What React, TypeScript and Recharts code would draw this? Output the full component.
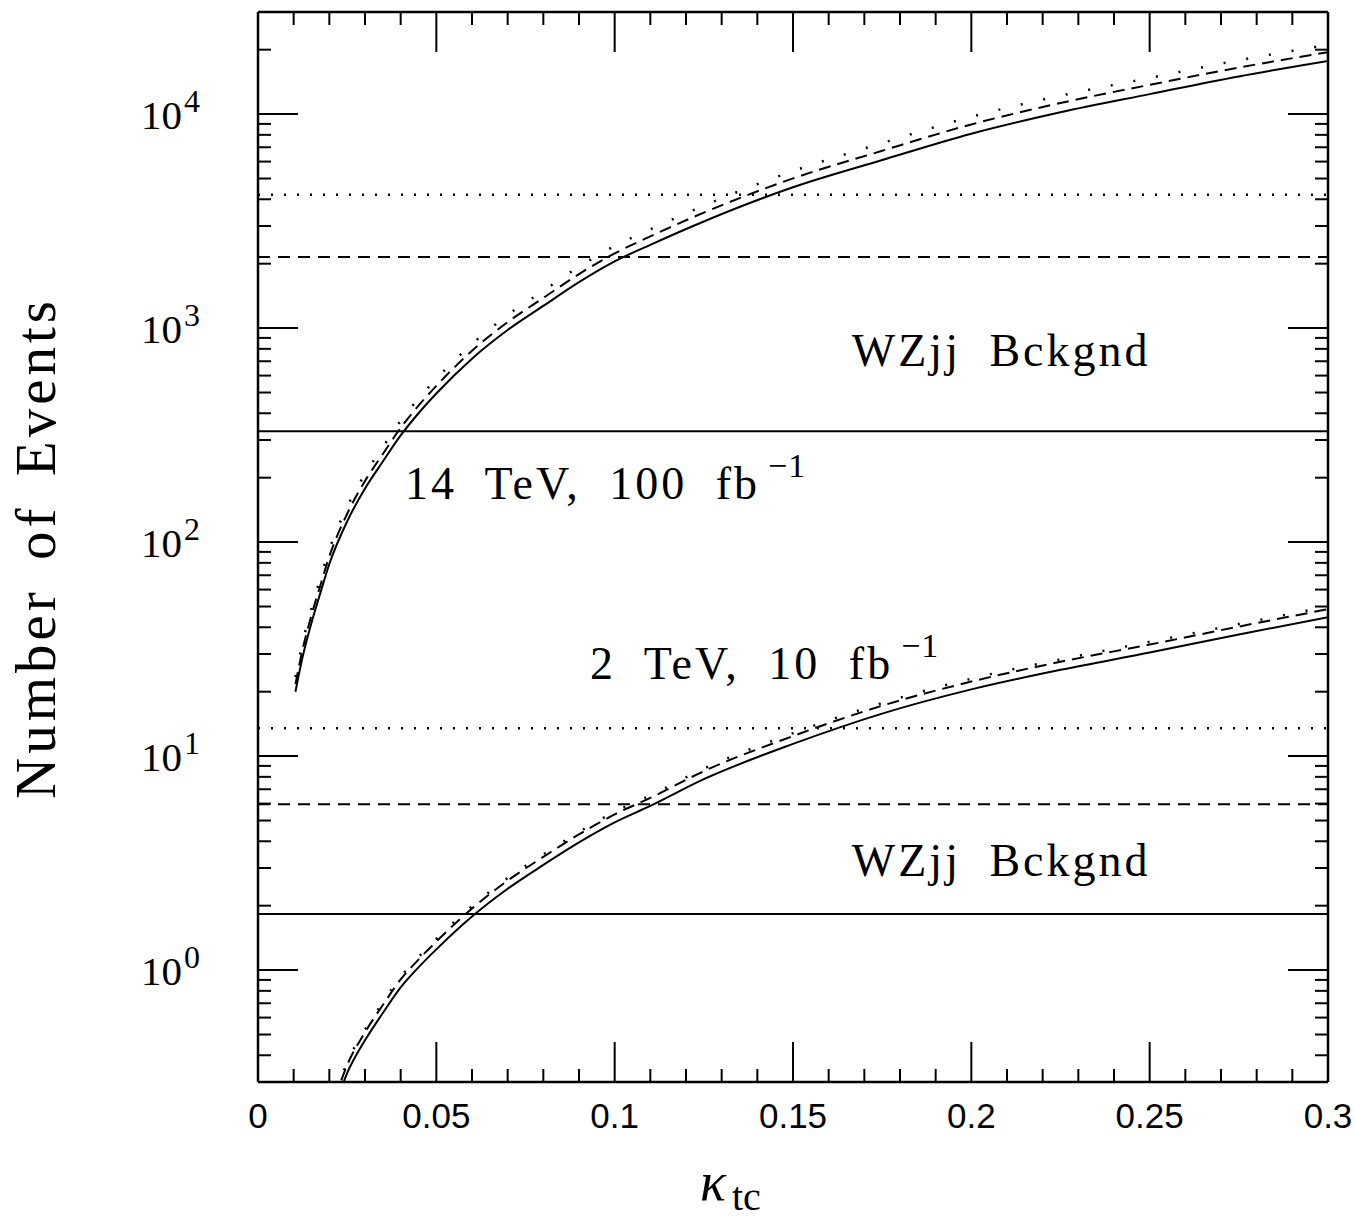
import React from 'react';
import { ComposedChart, Line, XAxis, YAxis, ReferenceLine, ReferenceDot } from 'recharts';

// kappa_tc grid
const kappa = [0.0105, 0.0125, 0.015, 0.0175, 0.02, 0.025, 0.03, 0.035, 0.04, 0.045, 0.05, 0.06, 0.07, 0.08, 0.09, 0.1, 0.11, 0.125, 0.15, 0.175, 0.2, 0.225, 0.25, 0.275, 0.3];

// 14 TeV, 100 fb^-1 signal curves
const lhcSolid = [20, 29, 42, 58, 79, 125, 178, 238, 315, 400, 495, 720, 980, 1270, 1640, 2050, 2450, 3150, 4550, 6100, 8100, 10200, 12400, 15000, 17700];
const lhcDashed = [21.7, 31.5, 45.6, 62.9, 85.7, 135.6, 193, 258, 342, 434, 537, 783, 1066, 1384, 1788, 2235, 2683, 3465, 5005, 6740, 8950, 11270, 13700, 16500, 19470];
const lhcDotted = [23.4, 33.9, 49.1, 67.9, 92.4, 146, 208, 278, 369, 468, 579, 842, 1152, 1492, 1935, 2419, 2891, 3733, 5415, 7320, 9720, 12190, 14760, 17850, 21060];

// 2 TeV, 10 fb^-1 signal curves
const tevSolid = [null, null, null, null, 0.19, 0.33, 0.47, 0.63, 0.83, 1.03, 1.25, 1.78, 2.4, 3.1, 3.95, 4.9, 5.85, 7.8, 11.4, 15.8, 20.5, 25.3, 30.5, 37, 44.6];
const tevDashed = [null, null, null, null, 0.207, 0.36, 0.512, 0.687, 0.905, 1.12, 1.36, 1.94, 2.62, 3.38, 4.31, 5.34, 6.38, 8.5, 12.4, 17.2, 22.3, 27.6, 33.2, 40.3, 48.6];
const tevDotted = [null, null, null, null, 0.213, 0.37, 0.526, 0.706, 0.93, 1.15, 1.4, 1.99, 2.69, 3.47, 4.42, 5.49, 6.55, 8.74, 12.8, 17.7, 23.0, 28.3, 34.2, 41.4, 50.0];

// WZjj backgrounds: [dotted, dashed, solid]
const lhcBackground = [4200, 2150, 330];
const tevBackground = [13.5, 5.95, 1.83];

// axis ticks
const xMajorTicks = [0, 0.05, 0.1, 0.15, 0.2, 0.25, 0.3];
const xMajorLabels = ['0', '0.05', '0.1', '0.15', '0.2', '0.25', '0.3'];
const xMinorTicks = [0.01, 0.02, 0.03, 0.04, 0.06, 0.07, 0.08, 0.09, 0.11, 0.12, 0.13, 0.14, 0.16, 0.17, 0.18, 0.19, 0.21, 0.22, 0.23, 0.24, 0.26, 0.27, 0.28, 0.29];
const yMajorTicks = [1, 10, 100, 1000, 10000];
const yMajorExponents = ['0', '1', '2', '3', '4'];
const yMinorTicks = [0.4, 0.5, 0.6, 0.7, 0.8, 0.9, 2, 3, 4, 5, 6, 7, 8, 9, 20, 30, 40, 50, 60, 70, 80, 90, 200, 300, 400, 500, 600, 700, 800, 900, 2000, 3000, 4000, 5000, 6000, 7000, 8000, 9000, 20000];

const yDomain = [0.3, 30000];
const xDomain = [0, 0.3];

// annotations: [text, superscript, kappa, events]
const annotations: [string, string, number, number][] = [
  ['WZjj Bckgnd', '', 0.1665, 664],
  ['14 TeV, 100 fb', '\u22121', 0.0412, 159],
  ['2 TeV, 10 fb', '\u22121', 0.0931, 22.9],
  ['WZjj Bckgnd', '', 0.1665, 2.75],
];

const data = kappa.map((k, i) => ({
  k,
  lhcSolid: lhcSolid[i],
  lhcDashed: lhcDashed[i],
  lhcDotted: lhcDotted[i],
  tevSolid: tevSolid[i],
  tevDashed: tevDashed[i],
  tevDotted: tevDotted[i],
}));

const MAJOR = 40;
const MINOR = 13;
const SERIF = '"Liberation Serif", "DejaVu Serif", serif';
const SANS = '"Liberation Sans", "DejaVu Sans", sans-serif';

const findIdx = (list: number[], v: number) => list.findIndex((m) => Math.abs(m - v) < 1e-6 * Math.max(1, Math.abs(m)));

const BottomTick = (p: any) => {
  const v = p.payload.value;
  const i = findIdx(xMajorTicks, v);
  const len = i >= 0 ? MAJOR : MINOR;
  return (
    <g>
      <line x1={p.x} x2={p.x} y1={p.y} y2={p.y - len} stroke="#000" strokeWidth={2} />
      {i >= 0 && (
        <text x={p.x} y={p.y + 46} textAnchor="middle" fontFamily={SANS} fontSize={35} fill="#000">
          {xMajorLabels[i]}
        </text>
      )}
    </g>
  );
};

const TopTick = (p: any) => {
  const v = p.payload.value;
  const len = findIdx(xMajorTicks, v) >= 0 ? MAJOR : MINOR;
  return <line x1={p.x} x2={p.x} y1={p.y} y2={p.y + len} stroke="#000" strokeWidth={2} />;
};

const LeftTick = (p: any) => {
  const v = p.payload.value;
  const i = findIdx(yMajorTicks, v);
  const len = i >= 0 ? MAJOR : MINOR;
  return (
    <g>
      <line x1={p.x} x2={p.x + len} y1={p.y} y2={p.y} stroke="#000" strokeWidth={2} />
      {i >= 0 && (
        <text x={p.x - 58} y={p.y + 15} textAnchor="end" fontFamily={SERIF} fontSize={41} fill="#000">
          <tspan>10</tspan>
          <tspan dx={2} dy={-17} fontSize={32}>{yMajorExponents[i]}</tspan>
        </text>
      )}
    </g>
  );
};

const RightTick = (p: any) => {
  const v = p.payload.value;
  const len = findIdx(yMajorTicks, v) >= 0 ? MAJOR : MINOR;
  return <line x1={p.x} x2={p.x - len} y1={p.y} y2={p.y} stroke="#000" strokeWidth={2} />;
};

const YTitle = () => (
  <text
    x={35}
    y={548}
    transform="rotate(-90, 35, 548)"
    textAnchor="middle"
    dominantBaseline="central"
    fontFamily={SERIF}
    fontSize={57}
    letterSpacing={4}
    wordSpacing={10}
    fill="#000"
  >
    Number of Events
  </text>
);

const XTitle = () => (
  <text x={700} y={1200} fontFamily={SERIF} fill="#000">
    <tspan fontSize={54} fontStyle="italic">{'\u03ba'}</tspan>
    <tspan dx={6} dy={10} fontSize={40}>tc</tspan>
  </text>
);

const annotationShape = (text: string, sup: string) => (p: any) => (
  <text x={p.cx} y={p.cy} fontFamily={SERIF} fontSize={46} letterSpacing={3} wordSpacing={14} fill="#000">
    <tspan>{text}</tspan>
    {sup && (
      <tspan dx={8} dy={-22} fontSize={34} letterSpacing={1}>
        {sup}
      </tspan>
    )}
  </text>
);

const lineStyles: Record<string, string | undefined> = {
  solid: undefined,
  dashed: '12 7',
  dotted: '2 21',
};
const bgStyles = ['2 11', '12 8', undefined];

export default function App() {
  const xTicks = [...xMajorTicks, ...xMinorTicks];
  const yTicks = [...yMajorTicks, ...yMinorTicks];
  return (
    <div style={{ position: 'absolute', left: 0, top: 0, width: 1355, height: 1218, background: '#fff' }}>
      <ComposedChart width={1355} height={1218} data={data} margin={{ top: 0, right: 0, bottom: 0, left: 0 }}>
        <XAxis
          xAxisId="b"
          dataKey="k"
          type="number"
          domain={xDomain}
          ticks={xTicks}
          interval={0}
          tick={<BottomTick />}
          tickLine={false}
          tickSize={0}
          tickMargin={0}
          height={136}
          axisLine={{ stroke: '#000', strokeWidth: 2.5 }}
          allowDataOverflow
          label={<XTitle />}
        />
        <XAxis
          xAxisId="t"
          dataKey="k"
          orientation="top"
          type="number"
          domain={xDomain}
          ticks={xTicks}
          interval={0}
          tick={<TopTick />}
          tickLine={false}
          tickSize={0}
          tickMargin={0}
          height={12}
          axisLine={{ stroke: '#000', strokeWidth: 2.5 }}
          allowDataOverflow
        />
        <YAxis
          yAxisId="l"
          type="number"
          scale="log"
          domain={yDomain}
          ticks={yTicks}
          interval={0}
          tick={<LeftTick />}
          tickLine={false}
          tickSize={0}
          tickMargin={0}
          width={258}
          axisLine={{ stroke: '#000', strokeWidth: 2.5 }}
          allowDataOverflow
          label={<YTitle />}
        />
        <YAxis
          yAxisId="r"
          orientation="right"
          type="number"
          scale="log"
          domain={yDomain}
          ticks={yTicks}
          interval={0}
          tick={<RightTick />}
          tickLine={false}
          tickSize={0}
          tickMargin={0}
          width={27}
          axisLine={{ stroke: '#000', strokeWidth: 2.5 }}
          allowDataOverflow
        />
        {lhcBackground.map((v, i) => (
          <ReferenceLine key={'lb' + i} xAxisId="b" yAxisId="l" y={v} stroke="#000" strokeWidth={i === 0 ? 2.5 : 2} strokeDasharray={bgStyles[i]} />
        ))}
        {tevBackground.map((v, i) => (
          <ReferenceLine key={'tb' + i} xAxisId="b" yAxisId="l" y={v} stroke="#000" strokeWidth={i === 0 ? 2.5 : 2} strokeDasharray={bgStyles[i]} />
        ))}
        <Line xAxisId="b" yAxisId="l" dataKey="lhcSolid" type="monotone" stroke="#000" strokeWidth={2} strokeDasharray={lineStyles.solid} dot={false} activeDot={false} isAnimationActive={false} />
        <Line xAxisId="b" yAxisId="l" dataKey="lhcDashed" type="monotone" stroke="#000" strokeWidth={2} strokeDasharray={lineStyles.dashed} dot={false} activeDot={false} isAnimationActive={false} />
        <Line xAxisId="b" yAxisId="l" dataKey="lhcDotted" type="monotone" stroke="#000" strokeWidth={2.5} strokeDasharray={lineStyles.dotted} dot={false} activeDot={false} isAnimationActive={false} />
        <Line xAxisId="b" yAxisId="l" dataKey="tevSolid" type="monotone" stroke="#000" strokeWidth={2} strokeDasharray={lineStyles.solid} dot={false} activeDot={false} isAnimationActive={false} />
        <Line xAxisId="b" yAxisId="l" dataKey="tevDashed" type="monotone" stroke="#000" strokeWidth={2} strokeDasharray={lineStyles.dashed} dot={false} activeDot={false} isAnimationActive={false} />
        <Line xAxisId="b" yAxisId="l" dataKey="tevDotted" type="monotone" stroke="#000" strokeWidth={2.5} strokeDasharray={lineStyles.dotted} dot={false} activeDot={false} isAnimationActive={false} />
        {annotations.map(([text, sup, x, y], i) => (
          <ReferenceDot key={'an' + i} xAxisId="b" yAxisId="l" x={x} y={y} r={0} shape={annotationShape(text, sup)} />
        ))}
      </ComposedChart>
    </div>
  );
}
